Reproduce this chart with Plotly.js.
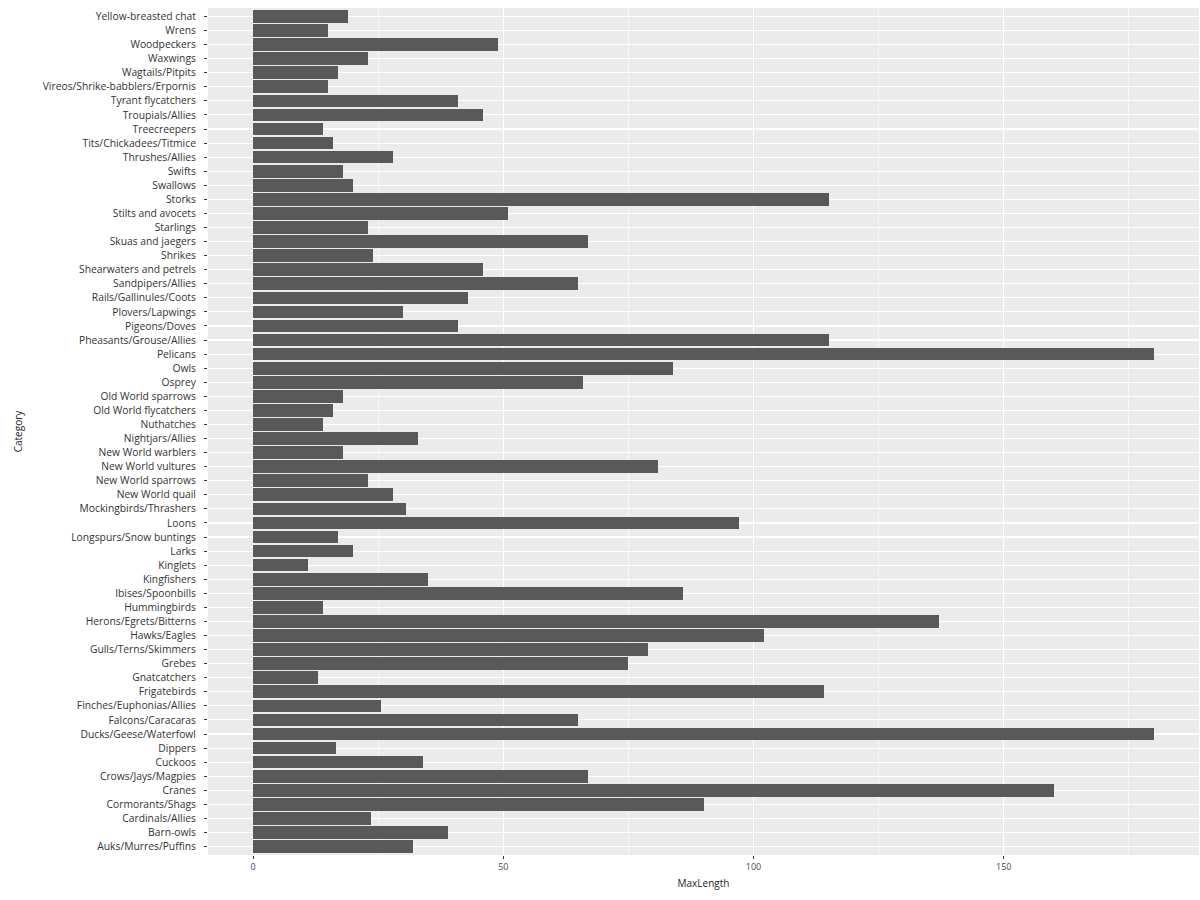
<!DOCTYPE html>
<html>
<head>
<meta charset="utf-8">
<script src="https://cdn.plot.ly/plotly-3.0.1.min.js"></script>
<style>
  body { margin: 0; background: #fff; }
  #chart { width: 1200px; height: 900px; }
</style>
</head>
<body>
<div id="chart"></div>
<script>
// categories from bottom to top, as ggplot draws them
var categories = [
    "Auks/Murres/Puffins", "Barn-owls", "Cardinals/Allies", "Cormorants/Shags",
    "Cranes", "Crows/Jays/Magpies", "Cuckoos", "Dippers", "Ducks/Geese/Waterfowl",
    "Falcons/Caracaras", "Finches/Euphonias/Allies", "Frigatebirds", "Gnatcatchers",
    "Grebes", "Gulls/Terns/Skimmers", "Hawks/Eagles", "Herons/Egrets/Bitterns",
    "Hummingbirds", "Ibises/Spoonbills", "Kingfishers", "Kinglets", "Larks",
    "Longspurs/Snow buntings", "Loons", "Mockingbirds/Thrashers", "New World quail",
    "New World sparrows", "New World vultures", "New World warblers", "Nightjars/Allies",
    "Nuthatches", "Old World flycatchers", "Old World sparrows", "Osprey", "Owls",
    "Pelicans", "Pheasants/Grouse/Allies", "Pigeons/Doves", "Plovers/Lapwings",
    "Rails/Gallinules/Coots", "Sandpipers/Allies", "Shearwaters and petrels", "Shrikes",
    "Skuas and jaegers", "Starlings", "Stilts and avocets", "Storks", "Swallows",
    "Swifts", "Thrushes/Allies", "Tits/Chickadees/Titmice", "Treecreepers",
    "Troupials/Allies", "Tyrant flycatchers", "Vireos/Shrike-babblers/Erpornis",
    "Wagtails/Pitpits", "Waxwings", "Woodpeckers", "Wrens", "Yellow-breasted chat"
];

var maxLength = [
    32, 39, 23.5, 90,
    160, 67, 34, 16.5, 180,
    65, 25.5, 114, 13,
    75, 79, 102, 137,
    14, 86, 35, 11, 20,
    17, 97, 30.5, 28,
    23, 81, 18, 33,
    14, 16, 18, 66, 84,
    180, 115, 41, 30,
    43, 65, 46, 24,
    67, 23, 51, 115, 20,
    18, 28, 16, 14,
    46, 41, 15,
    17, 23, 49, 15, 19
];

var xTicks = [0, 50, 100, 150];
var xTickText = ["<span style='color:#3b3bb0'>0</span>", "50", "100", "150"];

var trace = {
    type: "bar",
    orientation: "h",
    x: maxLength,
    y: categories,
    width: 0.9,
    marker: {color: "#595959"},
    hoverinfo: "x+y"
};

var layout = {
    width: 1200,
    height: 900,
    margin: {l: 208, r: 1, t: 8, b: 45},
    paper_bgcolor: "#ffffff",
    plot_bgcolor: "#ebebeb",
    font: {family: "Open Sans, Noto Sans, sans-serif", size: 10, color: "#4d4d4d"},
    showlegend: false,
    bargap: 0,
    xaxis: {
        range: [-9, 189],
        tickvals: xTicks,
        ticktext: xTickText,
        ticks: "outside",
        ticklen: 3,
        tickcolor: "#333333",
        showgrid: true,
        gridcolor: "#ffffff",
        gridwidth: 1.1,
        minor: {dtick: 25, tick0: 0, showgrid: true, gridcolor: "#ffffff", gridwidth: 0.6},
        zeroline: false,
        showline: false,
        tickfont: {size: 9, color: "#4d4d4d"},
        title: {text: "MaxLength", font: {size: 10, color: "#222222"}, standoff: 8}
    },
    yaxis: {
        type: "category",
        categoryorder: "array",
        categoryarray: categories,
        range: [-0.6, categories.length - 0.4],
        ticks: "outside",
        ticklen: 3,
        tickcolor: "#333333",
        ticklabelstandoff: 6,
        showgrid: true,
        gridcolor: "#ffffff",
        gridwidth: 1.1,
        zeroline: false,
        showline: false,
        tickfont: {size: 10.3, color: "#333333"},
        title: {text: "Category", font: {size: 10, color: "#222222"}, standoff: 18}
    }
};

Plotly.newPlot("chart", [trace], layout, {displayModeBar: false, staticPlot: true});
</script>
</body>
</html>
